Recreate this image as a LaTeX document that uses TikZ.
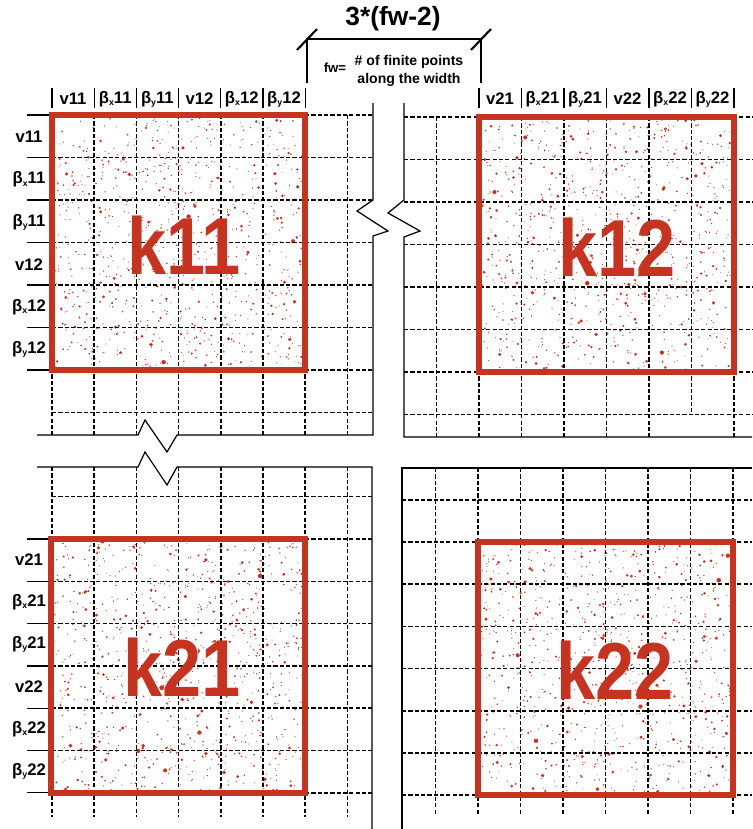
\documentclass[tikz,border=0pt]{standalone}
\usepackage{fontspec}
\setmainfont{Liberation Sans}
\definecolor{kred}{RGB}{196,52,32}

% random red speckles inside a block
\newcommand{\kspeckle}[4]{%
  \foreach \n in {1,...,900}{%
    \pgfmathsetmacro\sx{#1+(#3-#1)*rnd}%
    \pgfmathsetmacro\sy{#2+(#4-#2)*rnd}%
    \pgfmathsetmacro\sr{0.3+1.2*rnd*rnd*rnd}%
    \fill[kred] (\sx,\sy) circle[radius=\sr pt];
  }}
% small subscript after beta
\newcommand{\bsub}[1]{β\raisebox{-0.25ex}{\fontsize{5}{5}\selectfont #1}}
% block name, bold and a bit narrow
\newcommand{\kname}[1]{\scalebox{0.87}[1]{\bfseries #1}}

\begin{document}
\begin{tikzpicture}[x=0.02cm,y=-0.02cm,
    grid/.style={line width=0.85pt,dash pattern=on 2.4pt off 1.2pt},
    frame/.style={line width=0.7pt},
    kbox/.style={draw=kred,line width=3.1pt},
    klab/.style={text=kred,font=\fontsize{46}{46}\selectfont,inner sep=0pt},
    lab/.style={font=\fontsize{9.5}{10}\selectfont\bfseries,inner sep=0pt}]
    \useasboundingbox (0,0) rectangle (752,829);
    \pgfmathsetseed{11}

    % speckles
    \kspeckle{54}{117}{303}{368}
    \kspeckle{481}{119}{732}{370}
    \kspeckle{53}{541}{303}{791}
    \kspeckle{480}{544}{731}{793}

    % top left grid
    \foreach \j in {0,...,7} \draw[grid] (52,{115+42.5*\j}) -- (373,{115+42.5*\j});
    \foreach \i in {0,...,7} \draw[grid] ({52+42.2*\i},115) -- ({52+42.2*\i},435);
    \foreach \j in {0,...,6} \draw[frame] (27,{115+42.5*\j}) -- (52,{115+42.5*\j});
    % bottom left grid
    \foreach \j in {-1,...,6} \draw[grid] (52,{539+42.3*\j}) -- (372,{539+42.3*\j});
    \foreach \i in {0,...,7} \draw[grid] ({52+42.2*\i},467) -- ({52+42.2*\i},817);
    \foreach \j in {0,...,6} \draw[frame] (27,{539+42.3*\j}) -- (52,{539+42.3*\j});
    % top right grid
    \foreach \j in {0,...,7} \draw[grid] (404,{117+42.5*\j}) -- (752,{117+42.5*\j});
    \foreach \i in {-1,0,1,2,3,4,6} \draw[grid] ({479+42.5*\i},117) -- ({479+42.5*\i},437);
    \draw[grid] (691.5,117) -- (691.5,413);
    % bottom right grid
    \foreach \j in {-1,...,6} \draw[grid] (402,{542+42.2*\j}) -- (752,{542+42.2*\j});
    \foreach \i in {-1,...,6} \draw[grid] ({478+42.5*\i},468) -- ({478+42.5*\i},815);

    % frames with breaks
    \draw[frame] (373,103) -- (373,200) -- (357,211) -- (388,231) -- (373,236) -- (373,435)
        -- (177,435) -- (167,452) -- (145,420) -- (138,435) -- (37,435);
    \draw[frame] (404,103) -- (404,200) -- (388,213) -- (420,231) -- (404,237) -- (404,437) -- (752,437);
    \draw[frame] (37,467) -- (138,467) -- (145,452) -- (167,485) -- (177,467) -- (372,467) -- (372,829);
    \draw[frame] (752,468) -- (402,468) -- (402,829);

    % red blocks
    \draw[kbox] (52,115) rectangle (305,370);
    \draw[kbox] (479,117) rectangle (734,372);
    \draw[kbox] (51,539) rectangle (305,793);
    \draw[kbox] (478,542) rectangle (733,795);
    \node[klab] (k11) at (184,245) {\kname{k11}};
    \node[klab] (k12) at (617,247) {\kname{k12}};
    \node[klab] (k21) at (182,667) {\kname{k21}};
    \node[klab] (k22) at (615,670) {\kname{k22}};

    % column headers
    \foreach \i in {0,...,6} \draw[frame] ({52+42.2*\i},88) -- ({52+42.2*\i},108);
    \foreach \i in {0,...,6} \draw[frame] ({479+42.5*\i},88) -- ({479+42.5*\i},108);
    \foreach \t [count=\i from 0] in {v11,\bsub{x}11,\bsub{y}11,v12,\bsub{x}12,\bsub{y}12}
        \node[lab] (ha\i) at ({73+42.2*\i},99) {\t};
    \foreach \t [count=\i from 0] in {v21,\bsub{x}21,\bsub{y}21,v22,\bsub{x}22,\bsub{y}22}
        \node[lab] (hb\i) at ({500+42.5*\i},99) {\t};

    % row labels
    \foreach \t [count=\j from 0] in {v11,\bsub{x}11,\bsub{y}11,v12,\bsub{x}12,\bsub{y}12}
        \node[lab] (ra\j) at (29,{137+42.5*\j}) {\t};
    \foreach \t [count=\j from 0] in {v21,\bsub{x}21,\bsub{y}21,v22,\bsub{x}22,\bsub{y}22}
        \node[lab] (rb\j) at (29,{560+42.3*\j}) {\t};

    % dimension
    \node[font=\fontsize{15}{15}\selectfont\bfseries,inner sep=0pt] (dim) at (393,19) {3*(fw-2)};
    \coordinate (dl) at (307,39);
    \coordinate (dr) at (481,39);
    \draw[frame] (307,83) -- (dl) -- (dr) -- (481,83);
    \draw[line width=1.2pt] (297,50) -- (317,29);
    \draw[line width=1.2pt] (471,50) -- (491,29);
    \node[font=\fontsize{7.5}{7.5}\selectfont\bfseries,inner sep=0pt] (fw) at (335,68) {fw=};
    \node[font=\fontsize{8}{10}\selectfont\bfseries,inner sep=0pt,align=center] (fwtext) at (409,71)
        {\# of finite points\\along the width};
\end{tikzpicture}
\end{document}
